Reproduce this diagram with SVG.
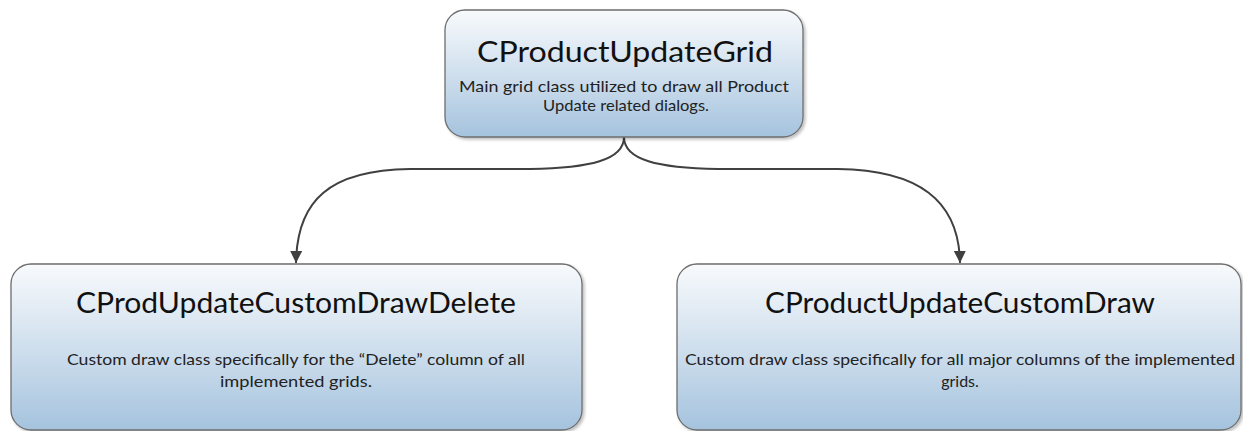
<svg xmlns="http://www.w3.org/2000/svg" width="1243" height="431" viewBox="0 0 1243 431">
  <style>
    .box { fill: url(#boxGrad); stroke: #6e6e6e; stroke-width: 1.3; filter: url(#shadow); }
    .title { font-family: Lato, "Open Sans", "Liberation Sans", sans-serif; font-size: 28px; fill: #111; text-anchor: middle; }
    .body { font-family: Lato, "Open Sans", "Liberation Sans", sans-serif; font-size: 16px; fill: #222; text-anchor: middle; }
    .conn { fill: none; stroke: #404040; stroke-width: 2; marker-end: url(#arrow); }
  </style>
  <defs>
    <linearGradient id="boxGrad" x1="0" y1="0" x2="0" y2="1">
      <stop offset="0" stop-color="#f8fafc"/>
      <stop offset="0.45" stop-color="#d4e2ef"/>
      <stop offset="1" stop-color="#a5c3de"/>
    </linearGradient>
    <filter id="shadow" x="-5%" y="-5%" width="110%" height="115%">
      <feGaussianBlur in="SourceAlpha" stdDeviation="1.5"/>
      <feOffset dx="2" dy="2" result="b"/>
      <feComponentTransfer><feFuncA type="linear" slope="0.25"/></feComponentTransfer>
      <feMerge><feMergeNode/><feMergeNode in="SourceGraphic"/></feMerge>
    </filter>
    <marker id="arrow" markerUnits="userSpaceOnUse" markerWidth="12" markerHeight="14" refX="12" refY="6" orient="auto">
      <path d="M0,0 L12,6 L0,12 Z" fill="#404040"/>
    </marker>
  </defs>

  <g id="connectors">
    <path class="conn" d="M624,137 C624,160 590,168 530,169 L410,169 C330,170 297,200 296,263"/>
    <path class="conn" d="M624,137 C624,160 658,168 718,169 L838,169 C918,170 959,200 960,263"/>
  </g>

  <g id="node-grid">
    <rect class="box" x="445" y="10" width="358" height="127" rx="20" ry="20"/>
    <text class="title" x="625" y="62" textLength="296" lengthAdjust="spacingAndGlyphs">CProductUpdateGrid</text>
    <text class="body" x="624" y="92" textLength="330" lengthAdjust="spacingAndGlyphs">Main grid class utilized to draw all Product</text>
    <text class="body" x="626" y="111" textLength="166" lengthAdjust="spacingAndGlyphs">Update related dialogs.</text>
  </g>

  <g id="node-delete">
    <rect class="box" x="11" y="264" width="571" height="166" rx="20" ry="20"/>
    <text class="title" x="296" y="313" textLength="440" lengthAdjust="spacingAndGlyphs">CProdUpdateCustomDrawDelete</text>
    <text class="body" x="296" y="365" textLength="458" lengthAdjust="spacingAndGlyphs">Custom draw class specifically for the “Delete” column of all</text>
    <text class="body" x="296" y="387" textLength="152" lengthAdjust="spacingAndGlyphs">implemented grids.</text>
  </g>

  <g id="node-draw">
    <rect class="box" x="677" y="264" width="564" height="166" rx="20" ry="20"/>
    <text class="title" x="960" y="313" textLength="390" lengthAdjust="spacingAndGlyphs">CProductUpdateCustomDraw</text>
    <text class="body" x="960" y="365" textLength="550" lengthAdjust="spacingAndGlyphs">Custom draw class specifically for all major columns of the implemented</text>
    <text class="body" x="960" y="387">grids.</text>
  </g>
</svg>
